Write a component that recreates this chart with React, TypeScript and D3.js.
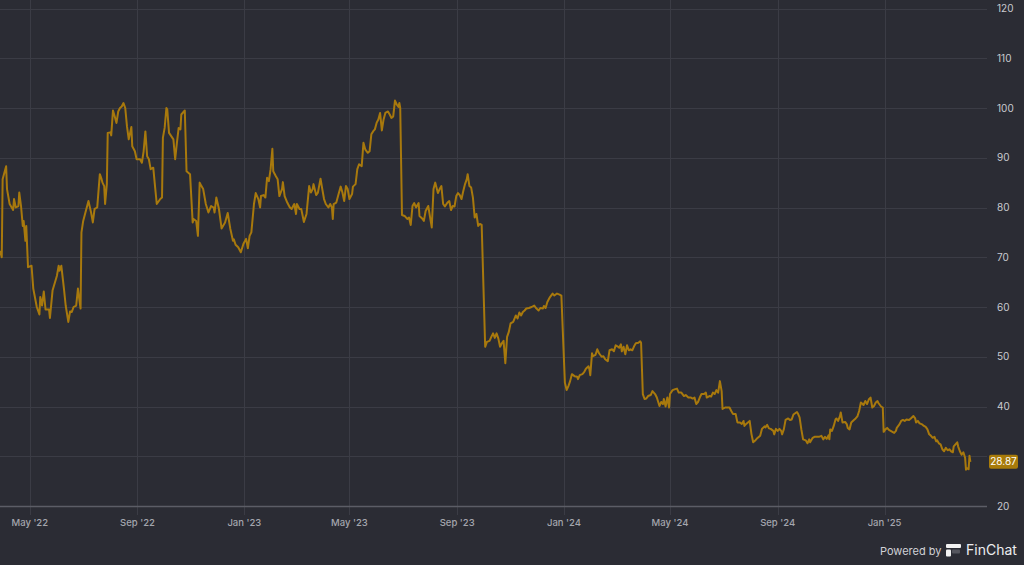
import React, { useEffect, useRef } from 'react';
import * as d3 from 'd3';

// Share price (close, USD)
const prices2022: [string, number][] = [
  ['2022-03-28', 71.3], ['2022-03-30', 70.0], ['2022-03-31', 85.7], ['2022-04-04', 88.3], ['2022-04-05', 83.7],
  ['2022-04-08', 80.7], ['2022-04-12', 79.5], ['2022-04-13', 81.7], ['2022-04-15', 80.0], ['2022-04-18', 80.3],
  ['2022-04-19', 83.0], ['2022-04-21', 80.3], ['2022-04-23', 76.3], ['2022-04-24', 77.3], ['2022-04-26', 73.3],
  ['2022-04-27', 76.3], ['2022-04-29', 68.0], ['2022-05-03', 68.3], ['2022-05-05', 63.7], ['2022-05-09', 60.0],
  ['2022-05-12', 58.5], ['2022-05-13', 62.0], ['2022-05-15', 60.3], ['2022-05-17', 63.1], ['2022-05-19', 59.5],
  ['2022-05-23', 59.5], ['2022-05-24', 57.8], ['2022-05-27', 63.3], ['2022-06-01', 66.3], ['2022-06-03', 68.3],
  ['2022-06-04', 67.3], ['2022-06-06', 68.3], ['2022-06-09', 63.7], ['2022-06-11', 60.3], ['2022-06-14', 57.0],
  ['2022-06-16', 59.1], ['2022-06-18', 59.0], ['2022-06-20', 60.0], ['2022-06-23', 60.3], ['2022-06-25', 63.7],
  ['2022-06-26', 62.3], ['2022-06-28', 59.7], ['2022-06-29', 75.0], ['2022-07-01', 77.3], ['2022-07-07', 81.3],
  ['2022-07-10', 79.0], ['2022-07-12', 77.0], ['2022-07-14', 79.7], ['2022-07-17', 80.0], ['2022-07-20', 86.7],
  ['2022-07-22', 85.7], ['2022-07-23', 85.0], ['2022-07-25', 84.3], ['2022-07-26', 80.7], ['2022-07-28', 84.7],
  ['2022-07-29', 95.0], ['2022-08-01', 95.1], ['2022-08-02', 94.5], ['2022-08-04', 99.5], ['2022-08-06', 98.3],
  ['2022-08-08', 97.0], ['2022-08-10', 99.3], ['2022-08-12', 100.0], ['2022-08-14', 100.3], ['2022-08-16', 101.0],
  ['2022-08-18', 100.0], ['2022-08-20', 96.3], ['2022-08-22', 93.7], ['2022-08-25', 96.2], ['2022-08-26', 92.3],
  ['2022-08-29', 91.3], ['2022-08-31', 89.7], ['2022-09-04', 89.7], ['2022-09-06', 89.0], ['2022-09-08', 91.3],
  ['2022-09-10', 95.3], ['2022-09-12', 90.3], ['2022-09-14', 89.7], ['2022-09-16', 87.7], ['2022-09-19', 88.0],
  ['2022-09-21', 84.3], ['2022-09-23', 80.7], ['2022-09-27', 81.7], ['2022-09-29', 82.0], ['2022-09-30', 94.0],
  ['2022-10-02', 96.0], ['2022-10-04', 100.0], ['2022-10-05', 99.7], ['2022-10-07', 95.0], ['2022-10-12', 93.7],
  ['2022-10-14', 89.7], ['2022-10-16', 93.0], ['2022-10-18', 96.0], ['2022-10-20', 95.7], ['2022-10-21', 98.7],
  ['2022-10-25', 99.5], ['2022-10-27', 87.3], ['2022-10-31', 86.7], ['2022-11-03', 77.0], ['2022-11-04', 77.7],
  ['2022-11-07', 77.3], ['2022-11-09', 74.3], ['2022-11-11', 85.0], ['2022-11-13', 84.3], ['2022-11-15', 83.7],
  ['2022-11-18', 80.7], ['2022-11-21', 79.0], ['2022-11-24', 80.3], ['2022-11-27', 80.0], ['2022-11-28', 79.0],
  ['2022-11-30', 82.0], ['2022-12-03', 79.7], ['2022-12-06', 75.8], ['2022-12-10', 77.0], ['2022-12-13', 78.9],
  ['2022-12-16', 75.7], ['2022-12-19', 73.3], ['2022-12-20', 73.6], ['2022-12-22', 72.5], ['2022-12-25', 72.0],
  ['2022-12-28', 71.0], ['2022-12-31', 72.7],
];

const prices2023: [string, number][] = [
  ['2023-01-03', 73.7], ['2023-01-05', 71.8], ['2023-01-07', 74.3], ['2023-01-09', 75.0], ['2023-01-12', 80.7],
  ['2023-01-14', 82.9], ['2023-01-17', 81.7], ['2023-01-19', 80.0], ['2023-01-20', 82.3], ['2023-01-23', 82.5],
  ['2023-01-25', 82.0], ['2023-01-27', 86.0], ['2023-01-29', 85.3], ['2023-01-31', 87.7], ['2023-02-02', 91.8],
  ['2023-02-03', 87.3], ['2023-02-06', 86.3], ['2023-02-08', 85.7], ['2023-02-10', 82.3], ['2023-02-13', 83.7],
  ['2023-02-14', 85.1], ['2023-02-16', 82.3], ['2023-02-19', 81.0], ['2023-02-22', 80.0], ['2023-02-24', 79.7],
  ['2023-02-27', 80.7], ['2023-03-01', 78.7], ['2023-03-02', 80.7], ['2023-03-05', 79.7], ['2023-03-07', 79.7],
  ['2023-03-10', 77.1], ['2023-03-13', 78.7], ['2023-03-16', 84.3], ['2023-03-18', 83.0], ['2023-03-20', 83.7],
  ['2023-03-21', 84.7], ['2023-03-24', 82.5], ['2023-03-26', 83.0], ['2023-03-29', 85.8], ['2023-03-31', 83.7],
  ['2023-04-02', 81.7], ['2023-04-04', 80.7], ['2023-04-07', 80.0], ['2023-04-09', 80.7], ['2023-04-11', 80.0],
  ['2023-04-12', 77.7], ['2023-04-13', 80.7], ['2023-04-16', 81.0], ['2023-04-18', 82.3], ['2023-04-21', 84.2],
  ['2023-04-23', 83.0], ['2023-04-25', 81.3], ['2023-04-27', 84.3], ['2023-04-29', 83.7], ['2023-05-01', 81.7],
  ['2023-05-04', 82.7], ['2023-05-05', 84.2], ['2023-05-08', 84.7], ['2023-05-10', 87.7], ['2023-05-12', 88.7],
  ['2023-05-15', 88.3], ['2023-05-17', 93.0], ['2023-05-19', 91.7], ['2023-05-22', 91.0], ['2023-05-24', 91.3],
  ['2023-05-26', 94.7], ['2023-05-28', 95.3], ['2023-05-30', 95.7], ['2023-06-01', 97.0], ['2023-06-03', 97.7],
  ['2023-06-05', 99.0], ['2023-06-07', 95.5], ['2023-06-09', 97.7], ['2023-06-11', 99.0], ['2023-06-14', 99.3],
  ['2023-06-16', 98.7], ['2023-06-18', 98.0], ['2023-06-20', 98.3], ['2023-06-22', 101.5], ['2023-06-24', 100.7],
  ['2023-06-26', 100.2], ['2023-06-27', 101.0], ['2023-06-28', 100.0], ['2023-06-30', 78.5], ['2023-07-03', 78.3],
  ['2023-07-06', 77.7], ['2023-07-08', 78.0], ['2023-07-10', 76.5], ['2023-07-12', 80.3], ['2023-07-14', 80.9],
  ['2023-07-16', 80.0], ['2023-07-19', 80.9], ['2023-07-20', 78.3], ['2023-07-23', 77.8], ['2023-07-25', 77.3],
  ['2023-07-27', 79.3], ['2023-07-30', 80.3], ['2023-08-01', 78.1], ['2023-08-03', 76.0], ['2023-08-05', 83.7],
  ['2023-08-07', 85.0], ['2023-08-10', 82.9], ['2023-08-12', 83.7], ['2023-08-14', 84.3], ['2023-08-16', 80.7],
  ['2023-08-18', 80.2], ['2023-08-21', 81.0], ['2023-08-23', 81.3], ['2023-08-25', 79.5], ['2023-08-27', 80.3],
  ['2023-08-29', 80.2], ['2023-08-31', 82.3], ['2023-09-02', 82.9], ['2023-09-04', 82.5], ['2023-09-06', 81.7],
  ['2023-09-08', 83.3], ['2023-09-10', 84.7], ['2023-09-12', 85.7], ['2023-09-13', 86.7], ['2023-09-15', 84.3],
  ['2023-09-17', 84.0], ['2023-09-19', 82.0], ['2023-09-21', 78.0], ['2023-09-23', 78.7], ['2023-09-25', 76.3],
  ['2023-09-27', 76.7], ['2023-09-29', 76.5], ['2023-10-03', 52.0], ['2023-10-05', 53.0], ['2023-10-08', 53.2],
  ['2023-10-10', 54.0], ['2023-10-12', 54.7], ['2023-10-14', 53.8], ['2023-10-16', 54.7], ['2023-10-18', 53.7],
  ['2023-10-20', 52.0], ['2023-10-22', 52.7], ['2023-10-24', 53.2], ['2023-10-26', 48.7], ['2023-10-28', 54.0],
  ['2023-10-30', 55.0], ['2023-11-01', 56.7], ['2023-11-04', 57.0], ['2023-11-07', 58.3], ['2023-11-09', 57.7],
  ['2023-11-11', 58.9], ['2023-11-13', 58.3], ['2023-11-15', 59.0], ['2023-11-17', 59.3], ['2023-11-19', 59.7],
  ['2023-11-22', 59.8], ['2023-11-25', 60.0], ['2023-11-28', 60.3], ['2023-11-30', 59.8], ['2023-12-03', 59.3],
  ['2023-12-05', 59.8], ['2023-12-08', 59.7], ['2023-12-09', 60.2], ['2023-12-11', 59.8], ['2023-12-13', 61.0],
  ['2023-12-16', 62.0], ['2023-12-19', 62.7], ['2023-12-21', 62.3], ['2023-12-24', 62.7], ['2023-12-27', 62.5],
  ['2023-12-29', 62.3],
];

const prices2024: [string, number][] = [
  ['2024-01-02', 44.8], ['2024-01-04', 43.3], ['2024-01-06', 44.1], ['2024-01-08', 45.1], ['2024-01-10', 46.5],
  ['2024-01-13', 46.1], ['2024-01-16', 46.0], ['2024-01-17', 45.5], ['2024-01-19', 46.3], ['2024-01-22', 46.5],
  ['2024-01-24', 46.9], ['2024-01-26', 47.6], ['2024-01-29', 48.1], ['2024-01-30', 47.5], ['2024-01-31', 46.3],
  ['2024-02-02', 50.7], ['2024-02-03', 50.1], ['2024-02-06', 50.4], ['2024-02-08', 51.5], ['2024-02-10', 50.7],
  ['2024-02-13', 50.0], ['2024-02-15', 50.1], ['2024-02-17', 49.5], ['2024-02-20', 49.1], ['2024-02-22', 51.3],
  ['2024-02-25', 51.5], ['2024-02-27', 51.1], ['2024-02-29', 52.3], ['2024-03-02', 52.1], ['2024-03-04', 51.8],
  ['2024-03-06', 52.5], ['2024-03-07', 51.1], ['2024-03-09', 52.0], ['2024-03-11', 50.5], ['2024-03-13', 52.3],
  ['2024-03-15', 51.3], ['2024-03-17', 51.5], ['2024-03-19', 51.3], ['2024-03-21', 52.1], ['2024-03-23', 52.7],
  ['2024-03-26', 52.8], ['2024-03-28', 53.1], ['2024-03-29', 52.8], ['2024-03-31', 42.5], ['2024-04-02', 41.5],
  ['2024-04-04', 41.6], ['2024-04-06', 42.1], ['2024-04-09', 42.3], ['2024-04-11', 43.1], ['2024-04-14', 42.5],
  ['2024-04-16', 41.8], ['2024-04-19', 40.1], ['2024-04-21', 40.9], ['2024-04-23', 40.5], ['2024-04-24', 41.5],
  ['2024-04-26', 40.0], ['2024-04-28', 41.8], ['2024-04-30', 39.8], ['2024-05-01', 42.5], ['2024-05-04', 43.3],
  ['2024-05-07', 43.5], ['2024-05-09', 43.6], ['2024-05-11', 42.8], ['2024-05-14', 42.8], ['2024-05-17', 42.1],
  ['2024-05-19', 42.3], ['2024-05-22', 41.8], ['2024-05-25', 41.8], ['2024-05-27', 41.6], ['2024-05-29', 41.8],
  ['2024-05-31', 40.5], ['2024-06-02', 40.9], ['2024-06-04', 41.8], ['2024-06-06', 42.5], ['2024-06-09', 42.5],
  ['2024-06-11', 42.8], ['2024-06-12', 41.8], ['2024-06-15', 42.1], ['2024-06-17', 42.0], ['2024-06-19', 42.8],
  ['2024-06-21', 42.5], ['2024-06-23', 43.3], ['2024-06-25', 42.8], ['2024-06-27', 45.1], ['2024-06-29', 43.1],
  ['2024-06-30', 39.5], ['2024-07-03', 39.8], ['2024-07-05', 39.8], ['2024-07-08', 39.8], ['2024-07-10', 39.1],
  ['2024-07-12', 38.5], ['2024-07-15', 38.5], ['2024-07-17', 36.8], ['2024-07-20', 36.8], ['2024-07-22', 36.5],
  ['2024-07-24', 37.1], ['2024-07-25', 36.1], ['2024-07-27', 36.5], ['2024-07-29', 36.8], ['2024-07-31', 37.1],
  ['2024-08-02', 34.5], ['2024-08-04', 32.8], ['2024-08-06', 33.1], ['2024-08-08', 33.5], ['2024-08-10', 33.8],
  ['2024-08-12', 34.1], ['2024-08-14', 35.5], ['2024-08-17', 36.0], ['2024-08-18', 35.8], ['2024-08-20', 36.3],
  ['2024-08-22', 35.6], ['2024-08-24', 35.5], ['2024-08-27', 35.1], ['2024-08-28', 34.4], ['2024-08-30', 35.5],
  ['2024-09-01', 35.1], ['2024-09-03', 35.5], ['2024-09-05', 35.1], ['2024-09-06', 34.4], ['2024-09-08', 35.4],
  ['2024-09-10', 37.3], ['2024-09-13', 37.6], ['2024-09-15', 37.3], ['2024-09-17', 37.4], ['2024-09-19', 38.4],
  ['2024-09-23', 38.9], ['2024-09-24', 38.6], ['2024-09-26', 37.8], ['2024-09-28', 35.4], ['2024-09-30', 33.4],
  ['2024-10-03', 33.2], ['2024-10-05', 32.6], ['2024-10-07', 33.4], ['2024-10-08', 32.8], ['2024-10-11', 33.7],
  ['2024-10-13', 33.9], ['2024-10-16', 33.9], ['2024-10-18', 33.9], ['2024-10-21', 34.1], ['2024-10-23', 33.4],
  ['2024-10-25', 33.9], ['2024-10-27', 33.5], ['2024-10-29', 34.2], ['2024-10-30', 33.4], ['2024-10-31', 35.4],
  ['2024-11-02', 35.1], ['2024-11-04', 36.1], ['2024-11-06', 37.4], ['2024-11-07', 37.6], ['2024-11-09', 37.1],
  ['2024-11-11', 38.0], ['2024-11-12', 38.8], ['2024-11-14', 36.8], ['2024-11-17', 36.9], ['2024-11-19', 36.4],
  ['2024-11-20', 35.7], ['2024-11-22', 35.4], ['2024-11-24', 36.8], ['2024-11-27', 37.3], ['2024-11-29', 37.6],
  ['2024-12-01', 38.0], ['2024-12-03', 39.1], ['2024-12-05', 40.8], ['2024-12-07', 40.5], ['2024-12-08', 40.3],
  ['2024-12-10', 41.1], ['2024-12-12', 40.5], ['2024-12-14', 41.4], ['2024-12-16', 41.8], ['2024-12-18', 39.8],
  ['2024-12-20', 40.1], ['2024-12-22', 40.8], ['2024-12-24', 41.1], ['2024-12-25', 40.7], ['2024-12-28', 40.0],
  ['2024-12-30', 39.8], ['2024-12-31', 34.9],
];

const prices2025: [string, number][] = [
  ['2025-01-02', 35.4], ['2025-01-04', 35.7], ['2025-01-06', 35.3], ['2025-01-08', 35.1], ['2025-01-10', 34.9],
  ['2025-01-12', 34.7], ['2025-01-14', 35.1], ['2025-01-15', 35.7], ['2025-01-18', 36.4], ['2025-01-20', 37.1],
  ['2025-01-22', 37.3], ['2025-01-24', 37.1], ['2025-01-26', 37.4], ['2025-01-29', 37.3], ['2025-01-31', 37.6],
  ['2025-02-03', 38.1], ['2025-02-05', 37.6], ['2025-02-06', 36.8], ['2025-02-08', 37.1], ['2025-02-10', 36.6],
  ['2025-02-13', 36.4], ['2025-02-15', 36.1], ['2025-02-17', 35.9], ['2025-02-19', 35.4], ['2025-02-21', 34.4],
  ['2025-02-23', 34.1], ['2025-02-25', 33.7], ['2025-02-27', 33.9], ['2025-03-01', 33.0], ['2025-03-02', 33.2],
  ['2025-03-04', 32.6], ['2025-03-06', 32.4], ['2025-03-08', 31.4], ['2025-03-10', 31.0], ['2025-03-12', 31.7],
  ['2025-03-14', 31.2], ['2025-03-16', 31.4], ['2025-03-18', 31.0], ['2025-03-20', 30.8], ['2025-03-21', 32.0],
  ['2025-03-23', 32.4], ['2025-03-25', 32.8], ['2025-03-26', 32.0], ['2025-03-28', 31.0], ['2025-03-30', 30.3],
  ['2025-04-01', 30.8], ['2025-04-03', 29.7], ['2025-04-04', 27.3], ['2025-04-05', 27.6], ['2025-04-07', 27.4],
  ['2025-04-08', 30.1], ['2025-04-09', 28.87],
];

const xTicks = ['2022-05-01', '2022-09-01', '2023-01-01', '2023-05-01', '2023-09-01', '2024-01-01', '2024-05-01', '2024-09-01', '2025-01-01'];
const xTickLabels = ["May '22", "Sep '22", "Jan '23", "May '23", "Sep '23", "Jan '24", "May '24", "Sep '24", "Jan '25"];
const yTicks = [20, 30, 40, 50, 60, 70, 80, 90, 100, 110, 120];
const xDomain = ['2022-03-28', '2025-04-28'];

const W = 1024;
const H = 565;
const BG = '#2b2c34';
const GRID = '#3b3c45';
const LINE = '#a8790d';
const FONT = 'Inter, "DejaVu Sans", sans-serif';

export default function App() {
    const svgRef = useRef<SVGSVGElement>(null);

    useEffect(() => {
        if (!svgRef.current) return;
        const parse = d3.utcParse('%Y-%m-%d');
        const data = [...prices2022, ...prices2023, ...prices2024, ...prices2025]
            .map(([d, v]) => ({ date: parse(d) as Date, value: v }));

        const plotRight = 987;
        const plotTop = 8.5;
        const plotBottom = 506;

        const svg = d3.select(svgRef.current);
        svg.selectAll('*').remove();

        const x = d3.scaleUtc()
            .domain(xDomain.map(d => parse(d) as Date))
            .range([0, plotRight]);

        const y = d3.scaleLinear()
            .domain([20, 120])
            .range([plotBottom, plotTop]);

        svg.append('rect').attr('width', W).attr('height', H).attr('fill', BG);

        // horizontal grid
        svg.append('g')
            .selectAll('line')
            .data(yTicks.slice(1))
            .enter()
            .append('line')
            .attr('x1', 0)
            .attr('x2', plotRight)
            .attr('y1', d => Math.round(y(d)) + 0.5)
            .attr('y2', d => Math.round(y(d)) + 0.5)
            .attr('stroke', GRID)
            .attr('stroke-width', 1);

        // vertical grid
        svg.append('g')
            .selectAll('line')
            .data(xTicks)
            .enter()
            .append('line')
            .attr('x1', d => Math.round(x(parse(d) as Date)) + 0.5)
            .attr('x2', d => Math.round(x(parse(d) as Date)) + 0.5)
            .attr('y1', 0)
            .attr('y2', plotBottom + 9)
            .attr('stroke', GRID)
            .attr('stroke-width', 1);

        // baseline
        svg.append('line')
            .attr('x1', 0)
            .attr('x2', plotRight)
            .attr('y1', Math.round(y(20)) + 0.5)
            .attr('y2', Math.round(y(20)) + 0.5)
            .attr('stroke', '#5c5d66')
            .attr('stroke-width', 1.5);

        const last = data[data.length - 1];
        const by = y(last.value);

        // y labels (the one under the last-value badge is hidden, as in the source)
        svg.append('g')
            .selectAll('text')
            .data(yTicks.filter(t => Math.abs(y(t) - by) > 9))
            .enter()
            .append('text')
            .attr('x', 997)
            .attr('y', d => y(d) + 3.5)
            .text(d => d)
            .attr('font-family', FONT)
            .attr('font-size', '10px')
            .attr('fill', '#c9cad0');

        // x labels
        svg.append('g')
            .selectAll('text')
            .data(xTicks)
            .enter()
            .append('text')
            .attr('x', d => x(parse(d) as Date))
            .attr('y', 525.5)
            .attr('text-anchor', 'middle')
            .text((d, i) => xTickLabels[i])
            .attr('font-family', FONT)
            .attr('font-size', '9.5px')
            .attr('font-weight', 500)
            .attr('fill', '#a4a6ae');

        // price line
        const line = d3.line<{ date: Date; value: number }>()
            .x(d => x(d.date))
            .y(d => y(d.value));

        svg.append('path')
            .datum(data)
            .attr('d', line)
            .attr('fill', 'none')
            .attr('stroke', LINE)
            .attr('stroke-width', 2)
            .attr('stroke-linejoin', 'round');

        // last value badge
        svg.append('rect')
            .attr('x', 989)
            .attr('y', by - 7)
            .attr('width', 29)
            .attr('height', 14)
            .attr('rx', 2)
            .attr('fill', '#a87b0a');
        svg.append('text')
            .attr('x', 1003.5)
            .attr('y', by + 3.5)
            .attr('text-anchor', 'middle')
            .text(last.value.toFixed(2))
            .attr('font-family', FONT)
            .attr('font-size', '10px')
            .attr('fill', '#ffffff');

        // footer
        svg.append('text')
            .attr('x', 880)
            .attr('y', 554.5)
            .text('Powered by')
            .attr('font-family', FONT)
            .attr('font-size', '11px')
            .attr('fill', '#d0d1d6');
        const logo = svg.append('g').attr('transform', 'translate(946,544)');
        logo.append('rect').attr('x', 0).attr('y', 0).attr('width', 15).attr('height', 4).attr('rx', 1).attr('fill', '#f2f2f2');
        logo.append('rect').attr('x', 0).attr('y', 5.5).attr('width', 5).attr('height', 7).attr('rx', 1).attr('fill', '#f2f2f2');
        logo.append('rect').attr('x', 6).attr('y', 5.5).attr('width', 8).attr('height', 4).attr('rx', 1).attr('fill', '#55565e');
        svg.append('text')
            .attr('x', 966)
            .attr('y', 555)
            .text('FinChat')
            .attr('font-family', FONT)
            .attr('font-size', '14px')
            .attr('fill', '#ececef');
    }, []);

    return (
        <div style={{ position: 'absolute', left: 0, top: 0, width: W, height: H, background: BG }}>
            <svg ref={svgRef} width={W} height={H}></svg>
        </div>
    );
}
